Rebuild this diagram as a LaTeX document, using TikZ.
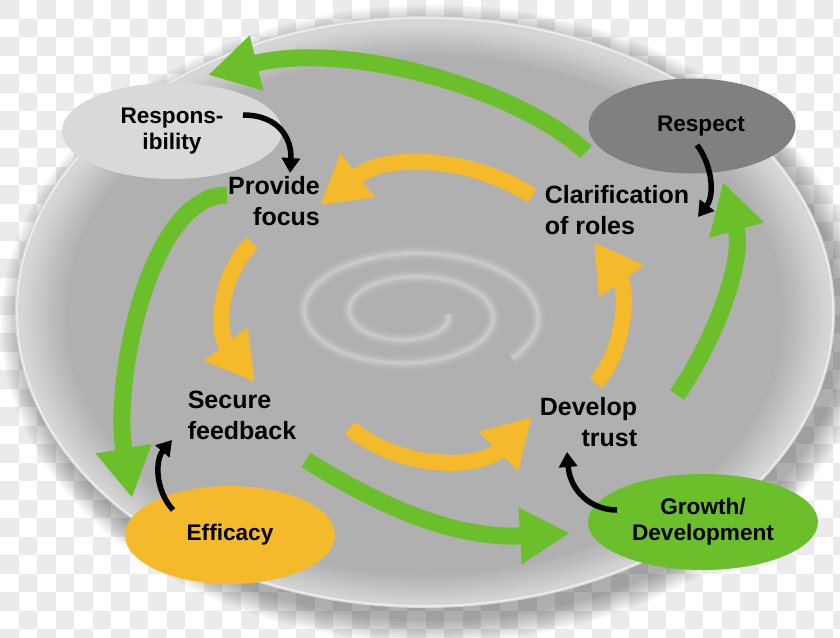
\documentclass[tikz,border=0pt]{standalone}
\usepackage{fontspec}
\setmainfont{Liberation Sans}
\usetikzlibrary{shapes.geometric,arrows.meta}
\definecolor{cgreen}{HTML}{6ABF2B}
\definecolor{cyellow}{HTML}{F4BA2B}
\definecolor{clight}{HTML}{D9D9D9}
\definecolor{cdark}{HTML}{808080}
\definecolor{checker}{HTML}{EBEBEB}
\begin{document}
\begin{tikzpicture}[x=1pt,y=-1pt,
  lbl/.style={font=\fontsize{25}{31}\selectfont\bfseries, inner sep=0pt},
  elbl/.style={font=\fontsize{22.6}{26}\selectfont\bfseries, inner sep=0pt, align=center},
  oval/.style={ellipse, inner sep=0pt},
  garrow/.style={cgreen, line width=17pt, -{Triangle[length=50pt,width=53pt]}},
  yarrow/.style={cyellow, line width=16pt, -{Triangle[length=48pt,width=52pt]}},
  karrow/.style={black, line width=5.5pt, -{Triangle[length=15pt,width=18pt]}},
]
\useasboundingbox (0,0) rectangle (840,637);
% background checkerboard
\fill[white] (0,0) rectangle (840,637);
\foreach \i in {0,...,45}{\foreach \j in {0,...,34}{
  \pgfmathtruncatemacro\cc{mod(\i+\j,2)}
  \ifnum\cc=0 \fill[checker] (\i*18.5,\j*18.5) rectangle ++(18.5,18.5);\fi
}}
% plate shadow
\foreach \k in {1,...,10}{
  \fill[black, opacity=0.035] (434,324) ellipse [x radius={408pt+2.5pt*\k}, y radius={294pt+2.5pt*\k}];
}
% plate
\fill[black!16] (425,312) ellipse [x radius=410pt, y radius=296pt];
\foreach \k in {0,...,20}{
  \pgfmathsetmacro\s{0.985-0.0055*\k}
  \pgfmathsetmacro\g{16+0.75*\k}
  \fill[black!\g] (425,315) ellipse [x radius={410pt*\s}, y radius={296pt*\s}];
}
\draw[white, opacity=0.6, line width=1.5pt] (425,312) ellipse [x radius=408pt, y radius=294pt];
% swirl
\foreach \w/\o in {14/0.05, 10/0.07, 6/0.1, 3/0.15}{
  \draw[white, opacity=\o, line width=\w pt] plot[smooth, domain=0:760, samples=150, variable=\t]
    ({410+(38+\t/8)*cos(\t)}, {314+0.52*(38+\t/8)*sin(\t)});
}
% ellipses
\node[oval, fill=clight, minimum width=220pt, minimum height=96pt, elbl] (resp) at (172,131) {Respons-\\ibility};
\node[oval, fill=cdark, minimum width=207pt, minimum height=95pt] (respect) at (692,126) {};
\node[elbl] (respecttxt) at (701,126) {Respect};
\node[oval, fill=cyellow, minimum width=210pt, minimum height=98pt, elbl] (eff) at (230,535) {Efficacy};
\node[oval, fill=cgreen, minimum width=230pt, minimum height=96pt, elbl] (grow) at (703,522) {Growth/\\Development};
% labels
\node[lbl, align=right] (focus) at (274,201.5) {Provide\\focus};
\node[lbl, align=left] (clar) at (617,210.5) {Clarification\\of roles};
\node[lbl, align=left] (secure) at (242,415) {Secure\\feedback};
\node[lbl, align=right] (trust) at (588.5,422) {Develop\\trust};
% coordinates
\coordinate (g1a) at (586,152); \coordinate (g1b) at (208,75);
\coordinate (g2a) at (227,195); \coordinate (g2b) at (132,498);
\coordinate (g3a) at (306,460); \coordinate (g3b) at (570,533);
\coordinate (g4a) at (677,395); \coordinate (g4b) at (723,182);
\coordinate (y1a) at (532,196); \coordinate (y1b) at (320,205);
\coordinate (y2a) at (252,243); \coordinate (y2b) at (255,382);
\coordinate (y3a) at (350,428); \coordinate (y3b) at (532,417);
\coordinate (y4a) at (596,383); \coordinate (y4b) at (594,242);
\coordinate (k1a) at (243,115); \coordinate (k1b) at (290,173);
\coordinate (k2a) at (697,145); \coordinate (k2b) at (698,217);
\coordinate (k3a) at (173,510); \coordinate (k3b) at (172,440);
\coordinate (k4a) at (617,510); \coordinate (k4b) at (567,452);
% green arrows
\draw[garrow] (g1a) .. controls (520,90) and (350,40) .. (g1b);
\draw[garrow] (g2a) .. controls (150,195) and (112,380) .. (g2b);
\draw[garrow] (g3a) .. controls (370,500) and (450,540) .. (g3b);
\draw[garrow] (g4a) .. controls (715,340) and (745,260) .. (g4b);
% yellow arrows
\draw[yarrow] (y1a) .. controls (480,160) and (390,150) .. (y1b);
\draw[yarrow] (y2a) .. controls (220,275) and (215,330) .. (y2b);
\draw[yarrow] (y3a) .. controls (400,470) and (480,470) .. (y3b);
\draw[yarrow] (y4a) .. controls (625,350) and (628,290) .. (y4b);
% black arrows
\draw[karrow] (k1a) .. controls (280,115) and (292,140) .. (k1b);
\draw[karrow] (k2a) .. controls (712,165) and (715,195) .. (k2b);
\draw[karrow] (k3a) .. controls (155,490) and (155,460) .. (k3b);
\draw[karrow] (k4a) .. controls (590,510) and (570,490) .. (k4b);
\end{tikzpicture}
\end{document}
